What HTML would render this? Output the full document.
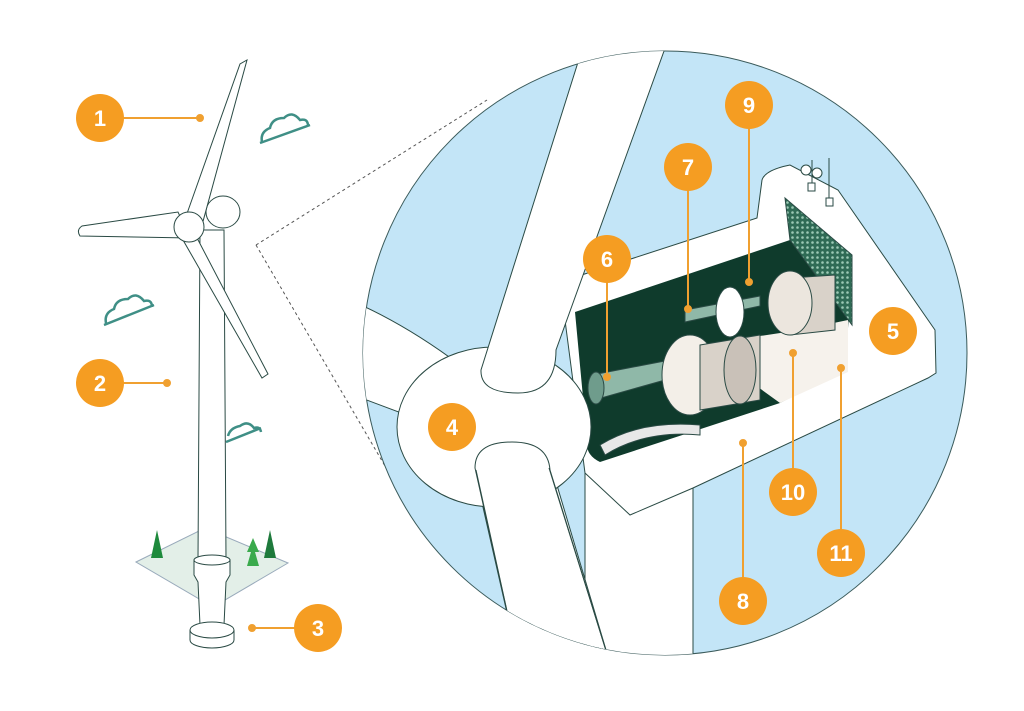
<!DOCTYPE html>
<html><head><meta charset="utf-8"><style>
html,body{margin:0;padding:0;background:#fff;}
svg{display:block;}
.n{font-family:"Liberation Sans",sans-serif;font-weight:bold;font-size:22px;fill:#fff;text-anchor:middle;}
</style></head><body>
<svg width="1024" height="711" viewBox="0 0 1024 711" xmlns="http://www.w3.org/2000/svg">
<defs><clipPath id="cc"><circle cx="665" cy="353" r="302"/></clipPath>
<pattern id="gr" width="5" height="5" patternUnits="userSpaceOnUse"><rect width="5" height="5" fill="#2f6b55"/><circle cx="2.5" cy="2.5" r="1.3" fill="#9cc9b5"/></pattern></defs>
<g stroke="#2a4a44" stroke-width="1" fill="none">
<line x1="256" y1="245" x2="487" y2="100" stroke="#555" stroke-dasharray="3,3"/>
<line x1="256" y1="245" x2="392" y2="478" stroke="#555" stroke-dasharray="3,3"/>
<path d="M260 143 l50 -18 M262 142 q-2 -10 8 -14 q2 -10 14 -10 q8 -8 16 2 q8 -2 8 6" stroke="#3f8f86" stroke-width="2.5"/>
<path d="M104 325 l50 -20 M106 323 q-2 -10 8 -14 q2 -10 14 -10 q8 -8 16 2 q8 -2 8 6" stroke="#3f8f86" stroke-width="2.5"/>
<path d="M226 442 l35 -14 M228 436 q2 -8 12 -10 q8 -6 14 2 q6 -2 7 4" stroke="#3f8f86" stroke-width="2.5"/>
<polygon points="136,562 205,528 288,563 213,607" fill="#e3efe8" stroke="#9ab"/>
<path d="M200 230 L224 230 L226 560 L198 560 Z" fill="#fff"/>
<path d="M194 560 L230 560 L230 575 L226 582 L224 625 L200 625 L198 582 L194 575 Z" fill="#fff"/>
<ellipse cx="212" cy="560" rx="18" ry="5" fill="#fff"/>
<path d="M190 630 L190 640 A22 8 0 0 0 234 640 L234 630" fill="#fff"/>
<ellipse cx="212" cy="630" rx="22" ry="8" fill="#fff"/>
<path d="M157 530 l-6 28 h12 z" fill="#1e8a3c" stroke="none"/>
<path d="M270 530 l-6 28 h12 z" fill="#1e7a3c" stroke="none"/>
<path d="M253 538 l-6 14 h4 l-4 14 h12 l-4 -14 h4 z" fill="#3aaa4c" stroke="none"/>
<ellipse cx="223" cy="212" rx="17" ry="16" fill="#fff"/>
<path d="M184 222 L240 64 L247 60 L202 225 Z" fill="#fff"/>
<path d="M190 238 L80 236 Q76 230 82 226 L178 212 Z" fill="#fff"/>
<path d="M196 236 L268 374 L262 378 L183 240 Z" fill="#fff"/>
<circle cx="189" cy="227" r="15" fill="#fff"/>
</g>
<circle cx="665" cy="353" r="302" fill="#c3e5f7" stroke="#3a5a5a"/>
<g clip-path="url(#cc)" stroke="#2a4a44" stroke-width="1">
<path d="M340 296 Q400 320 460 365 L420 420 L340 390 Z" fill="#fff"/>
<path d="M585 470 L693 470 L693 670 L585 670 Z" fill="#fff"/>
<path d="M470 450 L545 445 L612 670 L520 670 Z" fill="#fff"/>
<!-- nacelle -->
<path d="M560 282 L757 218 L762 180 Q765 170 790 165 L838 190 L935 330 L936 373 L928 378 L693 488 L630 515 L585 473 Z" fill="#fff"/>
<path d="M575 312 L790 240 L850 300 L845 370 L780 403 L600 462 Q585 455 587 440 Z" fill="#0f3b2c" stroke="none"/>
<polygon points="700,345 780,403 848,372 848,320 800,330" fill="#f6f2ec" stroke="none"/>
<polygon points="785,198 852,255 852,325 790,240" fill="url(#gr)"/>
<path d="M592 375 L670 360 L672 378 L594 400 Z" fill="#8fb8a8"/>
<ellipse cx="596" cy="388" rx="8" ry="16" fill="#6f9c8c"/>
<ellipse cx="690" cy="375" rx="28" ry="40" fill="#f3efe8"/>
<path d="M700 345 L760 335 L760 400 L700 410 Z" fill="#d9d2c9"/>
<ellipse cx="740" cy="370" rx="16" ry="34" fill="#c9c1b8"/>
<path d="M685 310 L760 296 L760 306 L685 322 Z" fill="#8fb8a8"/>
<ellipse cx="730" cy="312" rx="14" ry="25" fill="#fff"/>
<path d="M790 278 L835 275 L835 330 L790 335 Z" fill="#d9d2c9"/>
<ellipse cx="790" cy="303" rx="22" ry="32" fill="#ece6de"/>
<path d="M600 445 Q640 420 700 425 L700 435 Q645 430 605 455 Z" fill="#e8e8e8"/>
<!-- hub -->
<ellipse cx="494" cy="427" rx="97" ry="80" fill="#fff"/>
<!-- upper blade root on top -->
<path d="M585 40 L668 40 L556 350 Q556 393 518 393 Q480 393 481 370 Z" fill="#fff"/>
<!-- lower blade root -->
<path d="M475 468 Q475 442 512 442 Q548 442 550 470 L612 670 L520 670 Z" fill="#fff"/>
<path d="M476 470 L520 670 M549 468 L612 670" fill="none"/>
</g>
<g stroke="#2a4a44" fill="#fff"><line x1="812" y1="160" x2="812" y2="185"/><line x1="829" y1="158" x2="829" y2="200"/><circle cx="806" cy="170" r="5"/><circle cx="817" cy="173" r="5"/><rect x="808" y="183" width="7" height="8"/><rect x="826" y="198" width="7" height="8"/></g>
<g stroke="#f0a030" stroke-width="2" fill="#f0a030">
<line x1="100" y1="118" x2="200" y2="118"/><circle cx="200" cy="118" r="3"/>
<line x1="100" y1="383" x2="167" y2="383"/><circle cx="167" cy="383" r="3"/>
<line x1="252" y1="628" x2="318" y2="628"/><circle cx="252" cy="628" r="3"/>
<line x1="607" y1="259" x2="607" y2="377"/><circle cx="607" cy="377" r="3"/>
<line x1="688" y1="167" x2="688" y2="309"/><circle cx="688" cy="309" r="3"/>
<line x1="749" y1="105" x2="749" y2="282"/><circle cx="749" cy="282" r="3"/>
<line x1="793" y1="353" x2="793" y2="492"/><circle cx="793" cy="353" r="3"/>
<line x1="841" y1="368" x2="841" y2="553"/><circle cx="841" cy="368" r="3"/>
<line x1="743" y1="443" x2="743" y2="601"/><circle cx="743" cy="443" r="3"/>
</g>
<g fill="#f59d22">
<circle cx="100" cy="118" r="24"/><circle cx="100" cy="383" r="24"/><circle cx="318" cy="628" r="24"/>
<circle cx="452" cy="427" r="24"/><circle cx="893" cy="331" r="24"/><circle cx="607" cy="259" r="24"/>
<circle cx="688" cy="167" r="24"/><circle cx="743" cy="601" r="24"/><circle cx="749" cy="105" r="24"/>
<circle cx="793" cy="492" r="24"/><circle cx="841" cy="553" r="24"/>
</g>
<text class="n" x="100" y="126">1</text><text class="n" x="100" y="391">2</text><text class="n" x="318" y="636">3</text>
<text class="n" x="452" y="435">4</text><text class="n" x="893" y="339">5</text><text class="n" x="607" y="267">6</text>
<text class="n" x="688" y="175">7</text><text class="n" x="743" y="609">8</text><text class="n" x="749" y="113">9</text>
<text class="n" x="793" y="500">10</text><text class="n" x="841" y="561">11</text>
</svg>
</body></html>
